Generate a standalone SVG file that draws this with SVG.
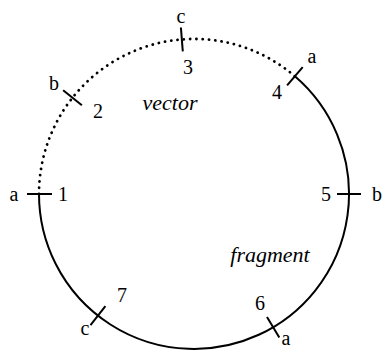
<svg xmlns="http://www.w3.org/2000/svg" width="383" height="350" viewBox="0 0 383 350">
<style>
text{font-family:'Liberation Serif','DejaVu Serif',serif;font-size:20px;fill:#000;text-anchor:middle}
.i{font-style:italic;font-size:22px}
.tick{stroke:#000;stroke-width:2;fill:none}
</style>
<rect width="383" height="350" fill="#fff"/>
<g id="connectors">
<path d="M39 194 A155 155 0 0 1 294.9 76.3" fill="none" stroke="#000" stroke-width="2.8" stroke-dasharray="0.1 6.2" stroke-linecap="round"/>
<path d="M294.9 76.3 A155 155 0 1 1 39 194" fill="none" stroke="#000" stroke-width="2"/>
</g>
<g id="site1"><line class="tick" x1="27" y1="194" x2="52" y2="194"/><text x="14" y="201">a</text><text x="63" y="201">1</text></g>
<g id="site2"><line class="tick" x1="63.1" y1="90.3" x2="81.9" y2="105.2"/><text x="54" y="90">b</text><text x="98" y="118">2</text></g>
<g id="site3"><line class="tick" x1="180.9" y1="27.5" x2="182.8" y2="51.4"/><text x="181" y="23">c</text><text x="188" y="74">3</text></g>
<g id="site4"><line class="tick" x1="287.1" y1="85.4" x2="302.7" y2="67.2"/><text x="312" y="63">a</text><text x="277" y="99">4</text></g>
<g id="site5"><line class="tick" x1="337" y1="194" x2="361" y2="194"/><text x="326" y="201">5</text><text x="377" y="201">b</text></g>
<g id="site6"><line class="tick" x1="267" y1="317" x2="279.3" y2="337.6"/><text x="260" y="310">6</text><text x="286" y="345">a</text></g>
<g id="site7"><line class="tick" x1="105.4" y1="306.2" x2="90.5" y2="325.1"/><text x="122" y="302">7</text><text x="85" y="335">c</text></g>
<g id="labels"><text class="i" x="170" y="110">vector</text><text class="i" x="270" y="262">fragment</text></g>
</svg>
